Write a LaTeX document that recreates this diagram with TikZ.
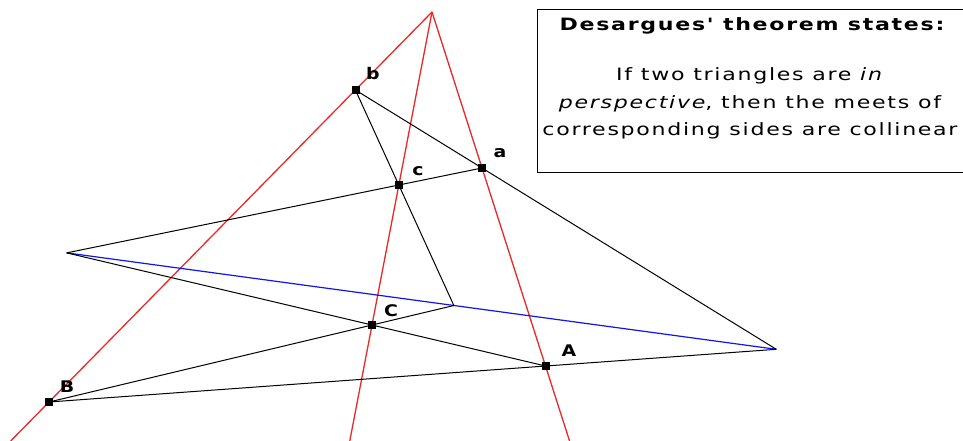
\documentclass[tikz,border=0pt]{standalone}
\usepackage{fontspec}
\setmainfont{DejaVu Sans}
\newfontfamily\genevafont[FakeStretch=1.18]{DejaVu Sans}
\newfontfamily\boxfont[FakeStretch=1.3,LetterSpace=10]{DejaVu Sans}
\usetikzlibrary{calc}
\definecolor{persp}{RGB}{235,40,40}
\definecolor{axisblue}{RGB}{20,20,230}
\tikzset{
  pt/.style={draw=black,fill=black,minimum size=7pt,inner sep=0pt,outer sep=0pt},
  ptlabel/.style={font=\genevafont\bfseries\fontsize{16}{16}\selectfont,inner sep=0pt},
  redline/.style={draw=persp,line width=1.3pt},
  blkline/.style={draw=black,line width=1pt},
  blueline/.style={draw=axisblue,line width=1.2pt},
  boxtext/.style={font=\boxfont\fontsize{17}{17}\selectfont,inner sep=0pt}
}
\begin{document}
\begin{tikzpicture}[x=1pt,y=-1pt]
\useasboundingbox (0,0) rectangle (963,441);
\fill[white] (0,0) rectangle (963,441);
% points
\coordinate (O) at (432,12);
\node[pt] (b) at (355.4,90) {};
\node[pt] (a) at (482,168) {};
\node[pt] (c) at (398.8,185) {};
\node[pt] (B) at (49,402) {};
\node[pt] (A) at (545.5,366) {};
\node[pt] (C) at (372,325) {};
% meets of corresponding sides
\coordinate (P1) at (intersection cs: first line={(b.center)--(a.center)}, second line={(B.center)--(A.center)});
\coordinate (P3) at (intersection cs: first line={(b.center)--(c.center)}, second line={(B.center)--(C.center)});
\coordinate (P2) at (intersection cs: first line={(a.center)--(c.center)}, second line={(A.center)--(C.center)});
\coordinate (EB) at ($(O)!1.1!(B.center)$);
\coordinate (EC) at ($(O)!1.37!(C.center)$);
\coordinate (EA) at ($(O)!1.212!(A.center)$);
% perspective lines
\draw[redline] (O) -- (EB);
\draw[redline] (O) -- (EC);
\draw[redline] (O) -- (EA);
% axis
\draw[blueline] (P2) -- (P1);
% triangle sides extended
\draw[blkline] (b.center) -- (P1);
\draw[blkline] (b.center) -- (P3);
\draw[blkline] (a.center) -- (P2);
\draw[blkline] (B.center) -- (P1);
\draw[blkline] (B.center) -- (P3);
\draw[blkline] (A.center) -- (P2);
% redraw point markers on top
\foreach \p in {a,b,c,A,B,C}{\node[pt] at (\p) {};}
% labels
\node[ptlabel] (lb) at (373,74) {b};
\node[ptlabel] (la) at (500,153) {a};
\node[ptlabel] (lc) at (418,171) {c};
\node[ptlabel] (lC) at (391,311) {C};
\node[ptlabel] (lA) at (569,351) {A};
\node[ptlabel] (lB) at (67,387) {B};
% text box
\draw[black,line width=1pt,fill=white] (537,10) rectangle (968,172);
\node[boxtext,font=\boxfont\bfseries\fontsize{17}{17}\selectfont] (title) at (752,26) {Desargues' theorem states:};
\node[boxtext] (l1) at (750,76) {If two triangles are \textit{in}};
\node[boxtext] (l2) at (750,104) {\textit{perspective}, then the meets of};
\node[boxtext] (l3) at (750,131) {corresponding sides are collinear};
\end{tikzpicture}
\end{document}
